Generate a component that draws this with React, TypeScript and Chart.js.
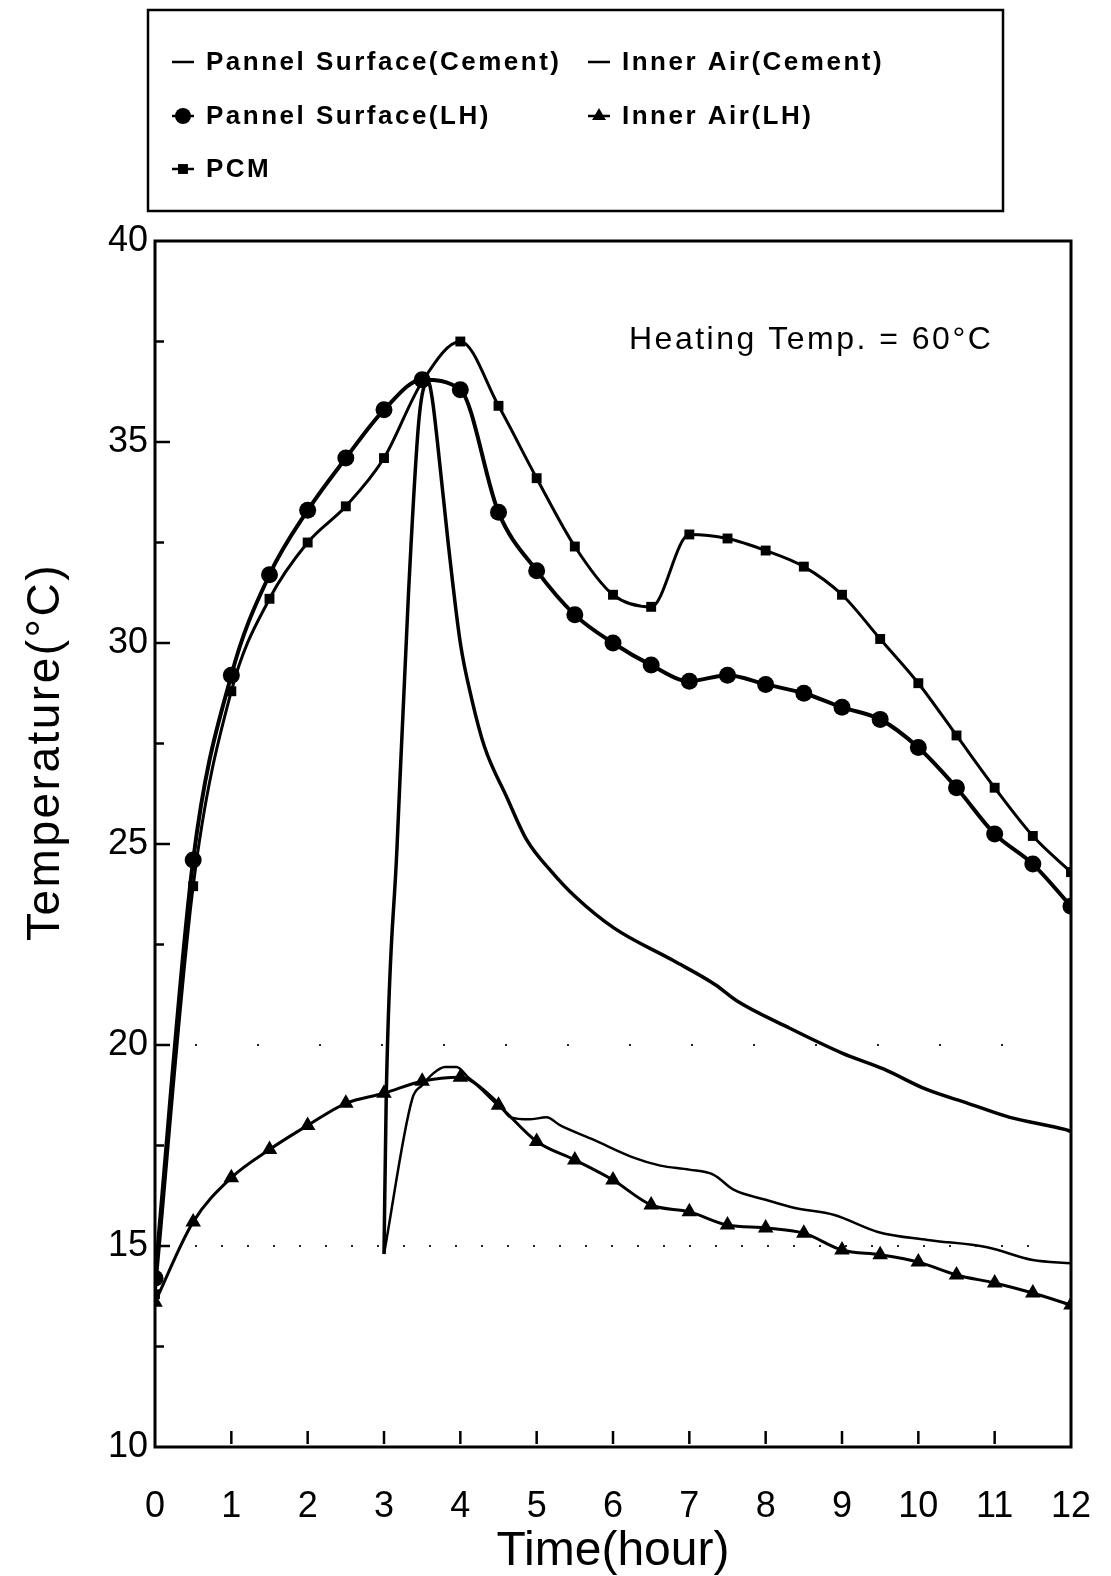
import React, { useEffect, useRef } from 'react';
import { Chart, registerables } from 'chart.js';

Chart.register(...registerables);

// ---- data ----
const halfHours = [0, 0.5, 1, 1.5, 2, 2.5, 3, 3.5, 4, 4.5, 5, 5.5, 6, 6.5, 7, 7.5, 8, 8.5, 9, 9.5, 10, 10.5, 11, 11.5, 12];
const surfaceLH = [14.2, 24.6, 29.2, 31.7, 33.3, 34.6, 35.8, 36.55, 36.3, 33.25, 31.8, 30.7, 30.0, 29.45, 29.05, 29.2, 28.97, 28.75, 28.4, 28.1, 27.4, 26.4, 25.25, 24.5, 23.45];
const innerAirLH = [13.6, 15.6, 16.7, 17.4, 18.0, 18.55, 18.8, 19.1, 19.2, 18.5, 17.6, 17.14, 16.64, 16.02, 15.85, 15.52, 15.45, 15.32, 14.9, 14.78, 14.6, 14.28, 14.08, 13.83, 13.53];
const pcm = [13.8, 23.95, 28.8, 31.1, 32.5, 33.4, 34.6, 36.5, 37.5, 35.9, 34.1, 32.4, 31.2, 30.9, 32.7, 32.6, 32.3, 31.9, 31.2, 30.1, 29.0, 27.7, 26.4, 25.2, 24.3];

const surfaceCementTime = [3.0, 3.03, 3.17, 3.32, 3.46, 3.58, 3.63, 3.7, 3.84, 4.0, 4.15, 4.32, 4.6, 4.87, 5.2, 5.5, 6.02, 6.79, 7.34, 7.62, 8.28, 9.0, 9.55, 10.1, 10.65, 11.2, 11.92, 12.0];
const surfaceCement = [14.8, 18.8, 24.9, 31.2, 35.6, 36.5, 36.1, 35.0, 32.5, 30.0, 28.6, 27.4, 26.2, 25.1, 24.3, 23.7, 22.9, 22.1, 21.5, 21.1, 20.45, 19.8, 19.4, 18.9, 18.55, 18.2, 17.9, 17.85];
const innerAirCementTime = [3.0, 3.37, 3.5, 3.65, 3.8, 3.95, 4.1, 4.3, 4.5, 4.66, 4.9, 5.13, 5.31, 5.75, 6.27, 6.62, 7.0, 7.32, 7.58, 8.0, 8.37, 8.9, 9.47, 10.12, 10.9, 11.5, 12.0];
const innerAirCement = [14.8, 18.66, 19.0, 19.3, 19.45, 19.45, 19.2, 18.9, 18.55, 18.2, 18.15, 18.2, 18.0, 17.64, 17.2, 17.0, 16.9, 16.77, 16.4, 16.15, 15.95, 15.77, 15.35, 15.15, 14.97, 14.65, 14.57];

const seriesLabels = ['Pannel Surface(Cement)', 'Inner Air(Cement)', 'Pannel Surface(LH)', 'Inner Air(LH)', 'PCM'];
const dottedGridValues = [15, 20];
const annotationText = 'Heating Temp. = 60°C';
const xTitle = 'Time(hour)';
const yTitle = 'Temperature(°C)';

const FONT = '"Liberation Sans", Arial, Helvetica, sans-serif';

const toPoints = (xs: number[], ys: number[]) => xs.map((x, i) => ({ x, y: ys[i] }));

function drawMarker(ctx: CanvasRenderingContext2D, style: string, x: number, y: number, r: number) {
  ctx.beginPath();
  if (style === 'circle') {
    ctx.arc(x, y, r, 0, Math.PI * 2);
  } else if (style === 'rect') {
    const s = r * Math.SQRT1_2;
    ctx.rect(x - s, y - s, 2 * s, 2 * s);
  } else if (style === 'triangle') {
    ctx.moveTo(x, y - r);
    ctx.lineTo(x + r * 0.866, y + r * 0.5);
    ctx.lineTo(x - r * 0.866, y + r * 0.5);
    ctx.closePath();
  }
  ctx.fill();
}

const framePlugin = {
  id: 'frameAndTicks',
  beforeDatasetsDraw(chart: any) {
    const { ctx, chartArea: a, scales } = chart;
    const y = scales.y;
    ctx.save();
    ctx.strokeStyle = '#222';
    ctx.lineWidth = 2;
    dottedGridValues.forEach((v, i) => {
      ctx.setLineDash(i === 0 ? [2, 24] : [2, 60]);
      const py = y.getPixelForValue(v);
      ctx.beginPath();
      ctx.moveTo(a.left + 40, py);
      ctx.lineTo(a.right - 20, py);
      ctx.stroke();
    });
    ctx.restore();
  },
  afterDraw(chart: any) {
    const { ctx, chartArea: a, scales } = chart;
    const x = scales.x;
    const y = scales.y;
    ctx.save();
    ctx.strokeStyle = '#000';
    ctx.lineWidth = 3;
    ctx.strokeRect(a.left, a.top, a.right - a.left, a.bottom - a.top);
    ctx.lineWidth = 2.5;
    y.ticks.forEach((t: any) => {
      if (t.value <= y.min || t.value >= y.max) return;
      const py = y.getPixelForValue(t.value);
      const len = t.value % 5 === 0 ? 15 : 9;
      ctx.beginPath();
      ctx.moveTo(a.left, py);
      ctx.lineTo(a.left + len, py);
      ctx.stroke();
    });
    x.ticks.forEach((t: any) => {
      if (t.value <= x.min || t.value >= x.max) return;
      const px = x.getPixelForValue(t.value);
      ctx.beginPath();
      ctx.moveTo(px, a.bottom - 3);
      ctx.lineTo(px, a.bottom - 16);
      ctx.stroke();
    });

    // annotation
    ctx.fillStyle = '#000';
    ctx.font = `32px ${FONT}`;
    (ctx as any).letterSpacing = '2.5px';
    ctx.textAlign = 'left';
    ctx.textBaseline = 'alphabetic';
    ctx.fillText(annotationText, 629, 349);

    // y title
    ctx.save();
    ctx.translate(46, 752);
    ctx.rotate(-Math.PI / 2);
    ctx.font = `46px ${FONT}`;
    (ctx as any).letterSpacing = '2.5px';
    ctx.textAlign = 'center';
    ctx.textBaseline = 'middle';
    ctx.fillText(yTitle, 0, 0);
    ctx.restore();

    // legend box
    (ctx as any).letterSpacing = '2.5px';
    ctx.lineWidth = 2.5;
    ctx.setLineDash([]);
    ctx.strokeRect(148, 10, 855, 201);
    const cols = [172, 588];
    const rows = [62, 116, 169];
    chart.data.datasets.forEach((ds: any, i: number) => {
      const cx = cols[i % 2];
      const cy = rows[Math.floor(i / 2)];
      ctx.lineWidth = 2.5;
      ctx.beginPath();
      ctx.moveTo(cx, cy);
      ctx.lineTo(cx + 22, cy);
      ctx.stroke();
      if (ds.pointRadius > 0) {
        drawMarker(ctx, ds.pointStyle, cx + 11, cy, ds.pointStyle === 'rect' ? 7 : 8);
      }
      ctx.font = `bold 26px ${FONT}`;
      ctx.textAlign = 'left';
      ctx.textBaseline = 'middle';
      ctx.fillText(ds.label, cx + 34, cy + 1);
    });
    ctx.restore();
  },
};

export default function App() {
  const ref = useRef<HTMLCanvasElement>(null);

  useEffect(() => {
    document.body.style.margin = '0';
    const canvas = ref.current;
    if (!canvas) return;
    Chart.defaults.color = '#000';
    const base = {
      borderColor: '#000',
      backgroundColor: '#000',
      pointBackgroundColor: '#000',
      pointBorderColor: '#000',
      pointBorderWidth: 0,
      cubicInterpolationMode: 'monotone' as const,
      fill: false,
    };
    const chart = new Chart(canvas, {
      type: 'line',
      data: {
        datasets: [
          { ...base, label: seriesLabels[0], data: toPoints(surfaceCementTime, surfaceCement), borderWidth: 3.5, pointRadius: 0 },
          { ...base, label: seriesLabels[1], data: toPoints(innerAirCementTime, innerAirCement), borderWidth: 2.5, pointRadius: 0 },
          { ...base, label: seriesLabels[2], data: toPoints(halfHours, surfaceLH), borderWidth: 4, pointStyle: 'circle', pointRadius: 8.5 },
          { ...base, label: seriesLabels[3], data: toPoints(halfHours, innerAirLH), borderWidth: 3, pointStyle: 'triangle', pointRadius: 9 },
          { ...base, label: seriesLabels[4], data: toPoints(halfHours, pcm), borderWidth: 3, pointStyle: 'rect', pointRadius: 7 },
        ],
      },
      options: {
        responsive: false,
        animation: false,
        devicePixelRatio: 1,
        layout: { padding: { top: 241, right: 40, left: 0, bottom: 0 } },
        plugins: { legend: { display: false }, tooltip: { enabled: false } },
        scales: {
          x: {
            type: 'linear',
            min: 0,
            max: 12,
            grid: { display: false, drawTicks: true, tickLength: 34 },
            border: { display: false },
            ticks: { stepSize: 1, autoSkip: false, maxRotation: 0, padding: 4, color: '#000', font: { size: 36, family: FONT } },
            title: { display: true, text: xTitle, color: '#000', font: { size: 48, family: FONT, lineHeight: 1 }, padding: { top: 0, bottom: 0 } },
            afterFit: (s: any) => { s.height = 129; },
          },
          y: {
            type: 'linear',
            min: 10,
            max: 40,
            grid: { display: false, drawTicks: false },
            border: { display: false },
            ticks: {
              stepSize: 2.5,
              autoSkip: false,
              padding: 7,
              color: '#000',
              font: { size: 36, family: FONT },
              callback: (v: any) => (Number(v) % 5 === 0 ? String(v) : ''),
            },
            afterFit: (s: any) => { s.width = 155; },
          },
        },
      },
      plugins: [framePlugin],
    } as any);
    return () => chart.destroy();
  }, []);

  return <canvas ref={ref} width={1111} height={1576} style={{ display: 'block', width: '1111px', height: '1576px' }} />;
}
